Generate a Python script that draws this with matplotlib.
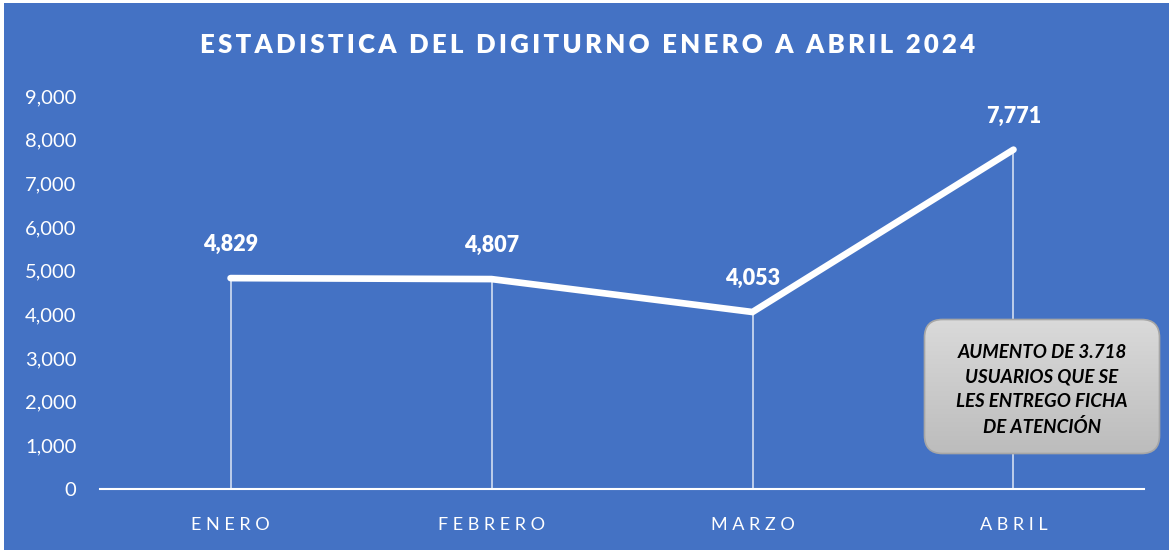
import numpy as np
import matplotlib.pyplot as plt
from matplotlib.patches import Rectangle, FancyBboxPatch

meses = ["ENERO", "FEBRERO", "MARZO", "ABRIL"]
usuarios = [4829, 4807, 4053, 7771]
y_ticks = [0, 1000, 2000, 3000, 4000, 5000, 6000, 7000, 8000, 9000]

azul = "#4472C4"
plt.rcParams['font.family'] = ['Lato', 'DejaVu Sans']

fig = plt.figure(figsize=(11.69, 5.5), dpi=100)
fig.patch.set_facecolor(azul)
ax = fig.add_axes([0.0856, 0.1109, 0.893, 0.7146])
ax.set_facecolor(azul)

x = list(range(len(meses)))
ax.vlines(x, 0, usuarios, colors="white", linewidth=1.3, alpha=0.7)
ax.plot(x, usuarios, color="white", linewidth=4.8, solid_joinstyle="miter",
        solid_capstyle="round")

for xi, v in zip(x, usuarios):
    ax.annotate(f"{v:,}", (xi, v), xytext=(0, 24), textcoords="offset points",
                ha="center", va="center", color="white", fontsize=15.5,
                fontweight="heavy")

ax.set_xlim(-0.5, 3.5)
ax.set_ylim(0, 9000)
ax.set_yticks(y_ticks)
ax.set_yticklabels([f"{t:,}" for t in y_ticks])
ax.set_xticks(x)
ax.set_xticklabels([" ".join(m) for m in meses])
ax.tick_params(axis="both", length=0, colors="white")
ax.tick_params(axis="y", pad=17, labelsize=14.5)
ax.tick_params(axis="x", pad=20, labelsize=13)
for s in ["top", "right", "left"]:
    ax.spines[s].set_visible(False)
ax.spines["bottom"].set_color("white")
ax.spines["bottom"].set_linewidth(1.5)

titulo = "ESTADISTICA DEL DIGITURNO ENERO A ABRIL 2024"
fig.text(0.503, 0.918, "\u2009".join(titulo),
         ha="center", va="center", color="white", fontsize=18.5,
         fontweight="heavy")

# cuadro con degradado gris
bx = fig.add_axes([923 / 1169, 1 - 455 / 550, 238 / 1169, 137 / 550])
bx.set_xlim(0, 238)
bx.set_ylim(0, 137)
bx.axis("off")
caja = FancyBboxPatch((1.5, 1.5), 235, 134,
                      boxstyle="round,pad=0,rounding_size=18",
                      facecolor="none", edgecolor="#A6A6A6", linewidth=1.2)
grad = np.linspace(0, 1, 100).reshape(-1, 1)
img = bx.imshow(grad, extent=(0, 238, 0, 137), aspect="auto",
                cmap=plt.matplotlib.colors.LinearSegmentedColormap.from_list(
                    "g", ["#DADADA", "#BCBCBC"]), origin="upper")
bx.add_patch(caja)
img.set_clip_path(caja)

fig.text(1042 / 1169, 1 - 390 / 550,
         "AUMENTO DE 3.718\nUSUARIOS QUE SE\nLES ENTREGO FICHA\nDE ATENCIÓN",
         ha="center", va="center", color="black", fontsize=13.5,
         fontweight="bold", style="italic", linespacing=1.55)

fig.patches.append(Rectangle((0, 0), 4 / 1169, 1, transform=fig.transFigure,
                             facecolor="white", edgecolor="none"))
fig.patches.append(Rectangle((0, 1 - 3 / 550), 1, 3 / 550,
                             transform=fig.transFigure,
                             facecolor="white", edgecolor="none"))

fig.savefig("out.png", dpi=100, facecolor=azul)
